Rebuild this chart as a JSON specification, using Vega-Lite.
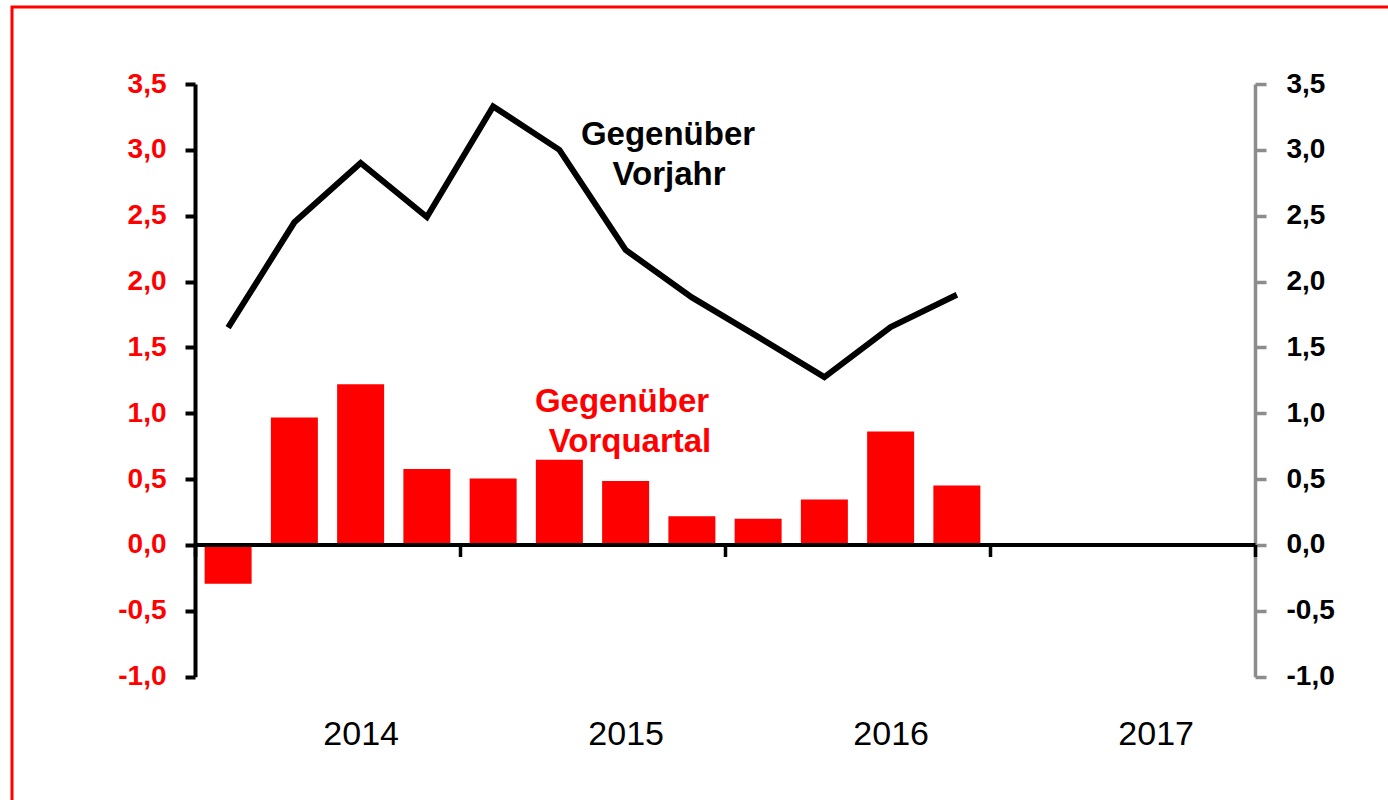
{
  "$schema": "https://vega.github.io/schema/vega-lite/v6.json",
  "width": 1380,
  "height": 800,
  "autosize": {"type": "none"},
  "padding": {"left": 12, "top": 7, "right": 0, "bottom": 0},
  "background": "white",
  "config": {
    "view": {"stroke": "#FF0000", "strokeWidth": 3},
    "font": "Liberation Sans",
    "axis": {"grid": false, "labelOverlap": false}
  },
  "datasets": {
    "quarters": [
      {"idx": 0, "qoq": -0.295, "yoy": 1.65},
      {"idx": 1, "qoq": 0.967, "yoy": 2.45},
      {"idx": 2, "qoq": 1.22, "yoy": 2.9},
      {"idx": 3, "qoq": 0.576, "yoy": 2.49},
      {"idx": 4, "qoq": 0.505, "yoy": 3.33},
      {"idx": 5, "qoq": 0.647, "yoy": 3.0},
      {"idx": 6, "qoq": 0.485, "yoy": 2.24},
      {"idx": 7, "qoq": 0.219, "yoy": 1.88},
      {"idx": 8, "qoq": 0.2, "yoy": 1.58},
      {"idx": 9, "qoq": 0.346, "yoy": 1.275},
      {"idx": 10, "qoq": 0.862, "yoy": 1.655},
      {"idx": 11, "qoq": 0.452, "yoy": 1.9}
    ],
    "notes": [
      {"label": "Gegenüber", "idx": 6.64, "val": 3.036, "series": "yoy"},
      {"label": "Vorjahr", "idx": 6.655, "val": 2.732, "series": "yoy"},
      {"label": "Gegenüber", "idx": 5.945, "val": 1.009, "series": "qoq"},
      {"label": "Vorquartal", "idx": 6.066, "val": 0.705, "series": "qoq"}
    ]
  },
  "resolve": {"axis": {"x": "independent", "y": "independent"}},
  "layer": [
    {
      "data": {"name": "quarters"},
      "mark": {"type": "bar", "color": "#FF0000", "size": 47},
      "encoding": {
        "x": {
          "field": "idx",
          "type": "quantitative",
          "title": null,
          "scale": {"domain": [-0.5, 15.5], "range": [183, 1243], "nice": false, "zero": false, "padding": 0},
          "axis": {
            "orient": "bottom",
            "offset": -262.5,
            "values": [-0.5, 3.5, 7.5, 11.5, 15.5],
            "labels": false,
            "domain": true,
            "domainColor": "#000000",
            "domainWidth": 4,
            "ticks": true,
            "tickColor": "#000000",
            "tickWidth": 3.5,
            "tickSize": 12,
            "zindex": 1
          }
        },
        "y": {
          "field": "qoq",
          "type": "quantitative",
          "title": null,
          "scale": {"domain": [-1, 3.5], "range": [669.7, 77], "nice": false},
          "axis": {
            "orient": "left",
            "offset": -183,
            "values": [-1, -0.5, 0, 0.5, 1, 1.5, 2, 2.5, 3, 3.5],
            "labelExpr": "replace(replace(format(datum.value, '.1f'), '.', ','), '−', '-')",
            "labelColor": "#FF0000",
            "labelFont": "Liberation Sans",
            "labelFontSize": 28,
            "labelFontWeight": "bold",
            "labelPadding": 19,
            "domainColor": "#000000",
            "domainWidth": 4,
            "tickColor": "#000000",
            "tickWidth": 4,
            "tickSize": 10,
            "zindex": 1
          }
        }
      }
    },
    {
      "data": {"name": "quarters"},
      "mark": {"type": "line", "color": "#000000", "strokeWidth": 6, "strokeJoin": "miter"},
      "encoding": {
        "x": {
          "field": "idx",
          "type": "quantitative",
          "title": null,
          "scale": {"domain": [-0.5, 15.5], "range": [183, 1243], "nice": false, "zero": false, "padding": 0},
          "axis": {
            "orient": "bottom",
            "offset": -130.3,
            "values": [2, 6, 10, 14],
            "labelExpr": "toString(2014 + (datum.value - 2) / 4)",
            "labelFont": "Liberation Sans",
            "labelFontSize": 34,
            "labelFontWeight": "normal",
            "labelColor": "#000000",
            "labelPadding": 41,
            "labelFlush": false,
            "domain": false,
            "ticks": false
          }
        },
        "y": {
          "field": "yoy",
          "type": "quantitative",
          "title": null,
          "scale": {"domain": [-1, 3.5], "range": [669.7, 77], "nice": false},
          "axis": {
            "orient": "right",
            "offset": -137,
            "values": [-1, -0.5, 0, 0.5, 1, 1.5, 2, 2.5, 3, 3.5],
            "labelExpr": "replace(replace(format(datum.value, '.1f'), '.', ','), '−', '-')",
            "labelColor": "#000000",
            "labelFont": "Liberation Sans",
            "labelFontSize": 28,
            "labelFontWeight": "bold",
            "labelPadding": 20,
            "domainColor": "#8C8C8C",
            "domainWidth": 3.5,
            "tickColor": "#8C8C8C",
            "tickWidth": 3.5,
            "tickSize": 11
          }
        }
      }
    },
    {
      "data": {"name": "notes"},
      "mark": {"type": "text", "align": "center", "baseline": "alphabetic", "font": "Liberation Sans", "fontSize": 33, "fontWeight": "bold"},
      "encoding": {
        "x": {"field": "idx", "type": "quantitative", "axis": null},
        "y": {"field": "val", "type": "quantitative", "axis": null},
        "text": {"field": "label", "type": "nominal"},
        "color": {
          "field": "series",
          "type": "nominal",
          "scale": {"domain": ["qoq", "yoy"], "range": ["#FF0000", "#000000"]},
          "legend": null
        }
      }
    }
  ]
}
